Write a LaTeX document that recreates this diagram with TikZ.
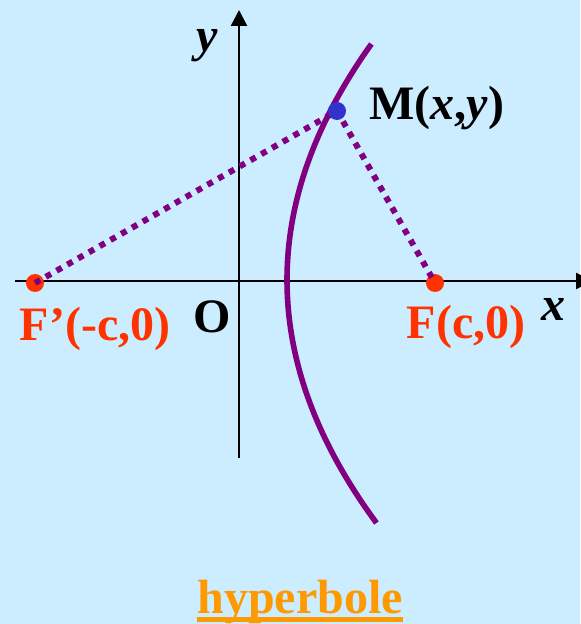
\documentclass[tikz,border=0pt]{standalone}
\usepackage{fontspec}
\setmainfont{Liberation Serif}
\usetikzlibrary{arrows.meta}

\definecolor{skyback}{RGB}{204,236,255}
\definecolor{curvepurple}{RGB}{128,0,128}
\definecolor{focusred}{RGB}{255,51,0}
\definecolor{pointblue}{RGB}{51,51,204}
\definecolor{titleorange}{RGB}{255,153,0}

\tikzset{
  axisline/.style={line width=1.2pt,-{Triangle[length=8pt,width=8pt]}},
  lbl/.style={font=\fontsize{24}{28}\selectfont\bfseries, inner sep=0pt, anchor=base},
  focusdot/.style={circle,fill=#1,inner sep=0pt,minimum size=9pt},
  guide/.style={curvepurple,line width=3pt,dash pattern=on 3pt off 3.2pt},
}

\begin{document}
\begin{tikzpicture}[x=0.5pt,y=-0.5pt]
\fill[skyback] (0,0) rectangle (580,624);
\useasboundingbox (0,0) rectangle (580,624);

% axes
\coordinate (xs) at (15,281);
\coordinate (xe) at (592,281);
\coordinate (ys) at (239,458);
\coordinate (ye) at (239,10);
\draw[axisline] (xs) -- (xe);
\draw[axisline] (ys) -- (ye);

% right branch
\draw[curvepurple,line width=2.8pt] plot[domain=-236:243,samples=80] ({287+(\x/25.69)^2},{280+\x});

% foci and point
\node[focusdot=focusred] (Fl) at (35,283) {};
\node[focusdot=focusred] (Fr) at (435,283) {};
\coordinate (M) at (337,111);
\draw[guide] (Fl.center) -- (M) -- (Fr.center);
\node[focusdot=pointblue] (Mdot) at (M) {};

% labels
\node[lbl,text=focusred] (Fllbl) at (95,340) {F’(-c,0)};
\node[lbl,text=focusred] (Frlbl) at (466,338) {F(c,0)};
\node[lbl] (Mlbl) at (437,120) {M(\textit{x},\textit{y})};
\node[lbl] (Olbl) at (212,332) {O};
\node[lbl] (xlbl) at (553,320) {\textit{x}};
\node[lbl] (ylbl) at (207,52) {\textit{y}};
\node[lbl,text=titleorange] (hyp) at (300,613) {hyperbole};
\draw[titleorange,line width=2.5pt] ([yshift=-3pt]hyp.base west) -- ([yshift=-3pt]hyp.base east);
\end{tikzpicture}
\end{document}
